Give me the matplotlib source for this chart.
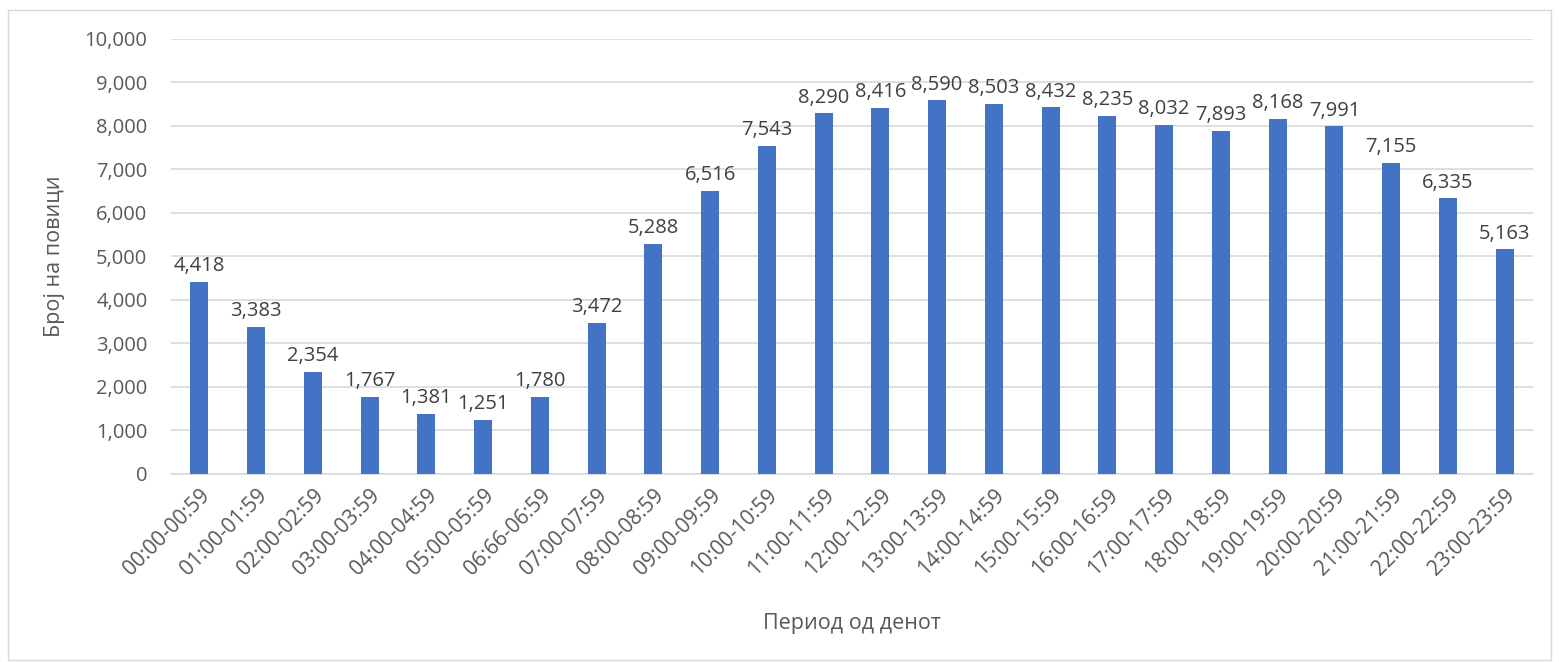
import matplotlib.pyplot as plt
import matplotlib.patches as mpatches
from matplotlib.ticker import FuncFormatter

periods = ["00:00-00:59", "01:00-01:59", "02:00-02:59", "03:00-03:59", "04:00-04:59",
           "05:00-05:59", "06:66-06:59", "07:00-07:59", "08:00-08:59", "09:00-09:59",
           "10:00-10:59", "11:00-11:59", "12:00-12:59", "13:00-13:59", "14:00-14:59",
           "15:00-15:59", "16:00-16:59", "17:00-17:59", "18:00-18:59", "19:00-19:59",
           "20:00-20:59", "21:00-21:59", "22:00-22:59", "23:00-23:59"]
calls = [4418, 3383, 2354, 1767, 1381, 1251, 1780, 3472, 5288, 6516, 7543, 8290,
         8416, 8590, 8503, 8432, 8235, 8032, 7893, 8168, 7991, 7155, 6335, 5163]

plt.rcParams['font.family'] = ['Open Sans', 'DejaVu Sans']
txt = '#595959'

fig = plt.figure(figsize=(15.59, 6.62), dpi=100)
ax = fig.add_axes([0.1097, 0.284, 0.8736, 0.6571])

x = list(range(len(periods)))
bars = ax.bar(x, calls, width=0.32, color='#4472c4', zorder=3)
for xi, v in zip(x, calls):
    ax.text(xi, v + 130, f"{v:,}", ha='center', va='bottom', fontsize=14.5, color='#404040')

ax.set_xlim(-0.5, len(periods) - 0.5)
ax.set_ylim(0, 10000)
ax.set_yticks(range(0, 10001, 1000))
ax.yaxis.set_major_formatter(FuncFormatter(lambda v, p: f"{int(v):,}"))
ax.grid(axis='y', color='#d9d9d9', linewidth=1.2, zorder=0)
for s in ['top', 'right', 'left']:
    ax.spines[s].set_visible(False)
ax.spines['bottom'].set_color('#d9d9d9')
ax.spines['bottom'].set_linewidth(1.2)
ax.tick_params(axis='both', length=0, labelsize=14.5, colors=txt)
ax.tick_params(axis='y', pad=17)
ax.set_xticks(x)
ax.set_xticklabels(periods, rotation=45, ha='right', rotation_mode='anchor', fontsize=15)
ax.tick_params(axis='x', pad=8)

ax.set_ylabel("Број на повици", fontsize=15.5, color=txt)
ax.yaxis.set_label_coords(-0.078, 0.5)
ax.set_xlabel("Период од денот", fontsize=15.5, color=txt)
ax.xaxis.set_label_coords(0.5, -0.32)

fig.patches.append(mpatches.Rectangle((8 / 1559, 2 / 662), 1543 / 1559, 650 / 662,
                                      transform=fig.transFigure, fill=False,
                                      edgecolor='#d9d9d9', linewidth=1))

fig.savefig('out.png', dpi=100)
